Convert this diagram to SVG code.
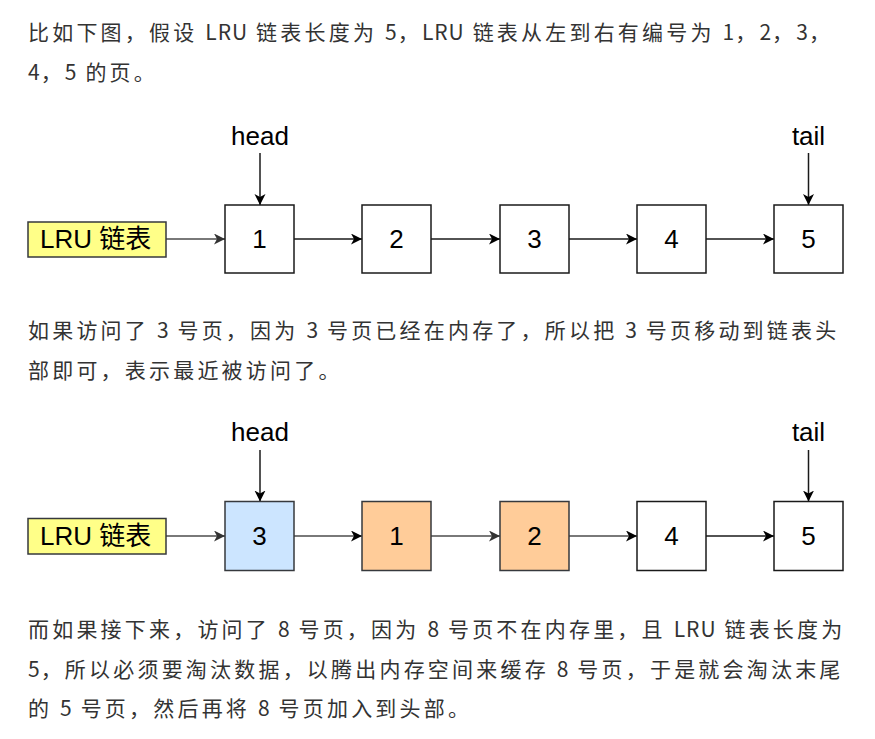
<svg xmlns="http://www.w3.org/2000/svg" width="875" height="739" viewBox="0 0 875 739">
<style>
.p{font-family:"Noto Sans CJK SC","Noto Sans",sans-serif;font-size:21px;fill:#333;letter-spacing:3.2px}
.l{letter-spacing:1px}
.n{font-family:"Liberation Sans",Arial,sans-serif;font-size:26px;fill:#000;text-anchor:middle}
.box{fill:#fff;stroke:#1a1a1a;stroke-width:1.5}
.lbl{fill:#ffff88;stroke:#36393d;stroke-width:1.5}
.blue{fill:#cce5ff;stroke:#36393d;stroke-width:1.5}
.orange{fill:#ffcc99;stroke:#36393d;stroke-width:1.5}
.c{fill:none;stroke:#1a1a1a;stroke-width:1.5}
.g{fill:none;stroke:#4d4d4d;stroke-width:1.5}
.lt{font-family:"Liberation Sans","Noto Sans CJK SC",sans-serif;font-size:26px;fill:#000}
</style>
<defs>
<marker id="ak" markerUnits="userSpaceOnUse" markerWidth="12" markerHeight="12" refX="11" refY="5.5" orient="auto">
<path d="M0,0 L11,5.5 L0,11 L3,5.5 Z" fill="#000"/>
</marker>
<marker id="ag" markerUnits="userSpaceOnUse" markerWidth="12" markerHeight="12" refX="11" refY="5.5" orient="auto">
<path d="M0,0 L11,5.5 L0,11 L3,5.5 Z" fill="#333"/>
</marker>
</defs>
<rect width="875" height="739" fill="#fff"/>

<g id="text1">
<text class="p" x="28" y="40">比如下图，假设 <tspan class="l">LRU</tspan> 链表长度为 <tspan class="l">5</tspan>，<tspan class="l">LRU</tspan> 链表从左到右有编号为 <tspan class="l">1</tspan>，<tspan class="l">2</tspan>，<tspan class="l">3</tspan>，</text>
<text class="p" x="28" y="80"><tspan class="l">4</tspan>，<tspan class="l">5</tspan> 的页。</text>
</g>
<g id="text2">
<text class="p" x="28" y="338">如果访问了 <tspan class="l">3</tspan> 号页，因为 <tspan class="l">3</tspan> 号页已经在内存了，所以把 <tspan class="l">3</tspan> 号页移动到链表头</text>
<text class="p" x="28" y="378">部即可，表示最近被访问了。</text>
</g>
<g id="text3">
<text class="p" x="28" y="637">而如果接下来，访问了 <tspan class="l">8</tspan> 号页，因为 <tspan class="l">8</tspan> 号页不在内存里，且 <tspan class="l">LRU</tspan> 链表长度为</text>
<text class="p" x="28" y="677"><tspan class="l">5</tspan>，所以必须要淘汰数据，以腾出内存空间来缓存 <tspan class="l">8</tspan> 号页，于是就会淘汰末尾</text>
<text class="p" x="28" y="716">的 <tspan class="l">5</tspan> 号页，然后再将 <tspan class="l">8</tspan> 号页加入到头部。</text>
</g>

<!-- Diagram 1 -->
<g id="connectors1">
<line class="g" x1="166" y1="239" x2="225" y2="239" marker-end="url(#ag)"/>
<line class="c" x1="294" y1="239" x2="362" y2="239" marker-end="url(#ak)"/>
<line class="c" x1="431" y1="239" x2="500" y2="239" marker-end="url(#ak)"/>
<line class="c" x1="569" y1="239" x2="637" y2="239" marker-end="url(#ak)"/>
<line class="c" x1="706" y1="239" x2="774" y2="239" marker-end="url(#ak)"/>
<line class="c" x1="260" y1="153" x2="260" y2="205" marker-end="url(#ak)"/>
<line class="c" x1="808.5" y1="153" x2="808.5" y2="205" marker-end="url(#ak)"/>
</g>
<g id="lru1">
<rect class="lbl" x="28" y="222" width="138" height="35"/>
<text class="lt" x="40" y="248">LRU 链表</text>
</g>
<g id="head1"><text class="n" x="260" y="145">head</text></g>
<g id="tail1"><text class="n" x="808.5" y="145">tail</text></g>
<g id="d1n1"><rect class="box" x="225" y="205" width="69" height="68"/><text class="n" x="259.5" y="248">1</text></g>
<g id="d1n2"><rect class="box" x="362" y="205" width="69" height="68"/><text class="n" x="396.5" y="248">2</text></g>
<g id="d1n3"><rect class="box" x="500" y="205" width="69" height="68"/><text class="n" x="534.5" y="248">3</text></g>
<g id="d1n4"><rect class="box" x="637" y="205" width="69" height="68"/><text class="n" x="671.5" y="248">4</text></g>
<g id="d1n5"><rect class="box" x="774" y="205" width="69" height="68"/><text class="n" x="808.5" y="248">5</text></g>

<!-- Diagram 2 -->
<g id="connectors2">
<line class="g" x1="166" y1="536" x2="225" y2="536" marker-end="url(#ag)"/>
<line class="g" x1="294" y1="536" x2="362" y2="536" marker-end="url(#ak)"/>
<line class="g" x1="431" y1="536" x2="500" y2="536" marker-end="url(#ag)"/>
<line class="g" x1="569" y1="536" x2="637" y2="536" marker-end="url(#ak)"/>
<line class="c" x1="706" y1="536" x2="774" y2="536" marker-end="url(#ak)"/>
<line class="c" x1="260" y1="450" x2="260" y2="501.5" marker-end="url(#ak)"/>
<line class="c" x1="808.5" y1="450" x2="808.5" y2="501.5" marker-end="url(#ak)"/>
</g>
<g id="lru2">
<rect class="lbl" x="28" y="518.5" width="138" height="35.5"/>
<text class="lt" x="40" y="545">LRU 链表</text>
</g>
<g id="head2"><text class="n" x="260" y="441">head</text></g>
<g id="tail2"><text class="n" x="808.5" y="441">tail</text></g>
<g id="d2n3"><rect class="blue" x="225" y="501.5" width="69" height="69"/><text class="n" x="259.5" y="545">3</text></g>
<g id="d2n1"><rect class="orange" x="362" y="501.5" width="69" height="69"/><text class="n" x="396.5" y="545">1</text></g>
<g id="d2n2"><rect class="orange" x="500" y="501.5" width="69" height="69"/><text class="n" x="534.5" y="545">2</text></g>
<g id="d2n4"><rect class="box" x="637" y="501.5" width="69" height="69"/><text class="n" x="671.5" y="545">4</text></g>
<g id="d2n5"><rect class="box" x="774" y="501.5" width="69" height="69"/><text class="n" x="808.5" y="545">5</text></g>
</svg>
